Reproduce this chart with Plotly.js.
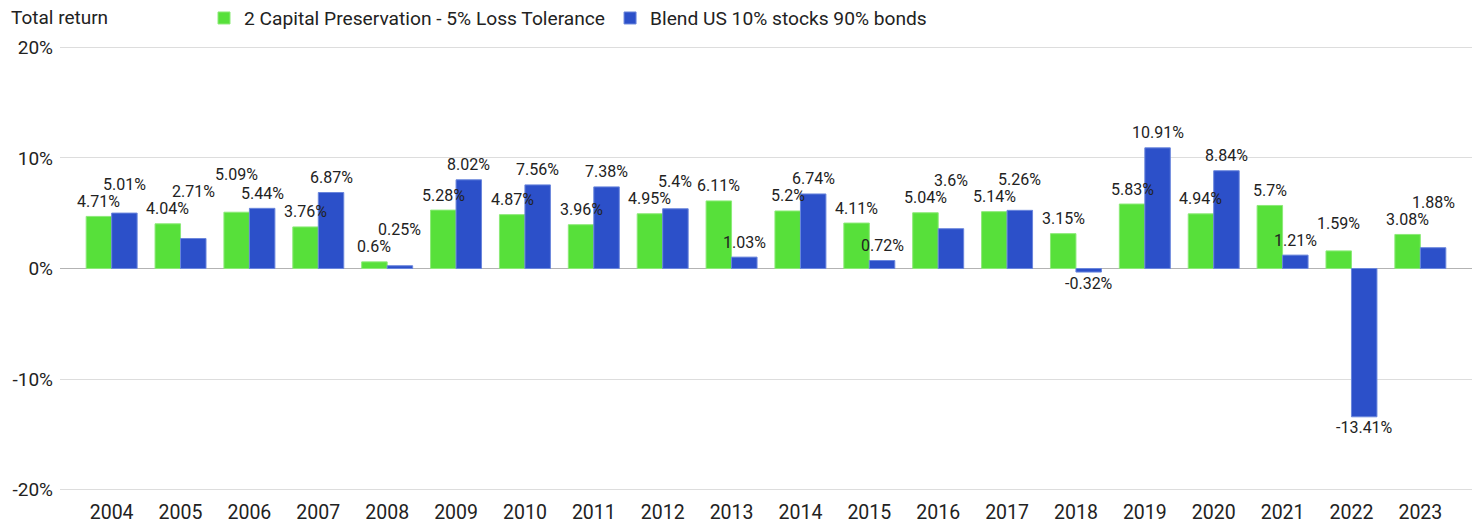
<!DOCTYPE html>
<html>
<head>
<meta charset="utf-8">
<script src="https://cdn.plot.ly/plotly-3.0.1.min.js"></script>
<style>
  html, body { margin: 0; padding: 0; background: #fff; }
  #chart { width: 1478px; height: 523px; }
</style>
</head>
<body>
<div id="chart"></div>
<script>
// ---- Data ----
const years = ['2004','2005','2006','2007','2008','2009','2010','2011','2012','2013',
               '2014','2015','2016','2017','2018','2019','2020','2021','2022','2023'];
const capitalPreservation = [4.71, 4.04, 5.09, 3.76, 0.6, 5.28, 4.87, 3.96, 4.95, 6.11,
                             5.2, 4.11, 5.04, 5.14, 3.15, 5.83, 4.94, 5.7, 1.59, 3.08];
const blendUS = [5.01, 2.71, 5.44, 6.87, 0.25, 8.02, 7.56, 7.38, 5.4, 1.03,
                 6.74, 0.72, 3.6, 5.26, -0.32, 10.91, 8.84, 1.21, -13.41, 1.88];
const seriesNames = ['2 Capital Preservation - 5% Loss Tolerance', 'Blend US 10% stocks 90% bonds'];
const yTickVals = [-20, -10, 0, 10, 20];
const yAxisLabel = 'Total return';

// ---- Layout constants ----
const W = 1478, H = 523;
const M = { l: 60, r: 6, t: 44, b: 30 };
const xRange = [-0.75, years.length - 0.25];
const yRange = [-20.3, 20.3];
const bargap = 0.26;
const FONT = 'Roboto, "Open Sans", sans-serif';
const LABEL_SIZE = 16;
const green = '#57e03a';
const blue = '#2c50c9';

const plotW = W - M.l - M.r, plotH = H - M.t - M.b;
const pxX = u => M.l + (u - xRange[0]) / (xRange[1] - xRange[0]) * plotW;
const pxY = v => M.t + (yRange[1] - v) / (yRange[1] - yRange[0]) * plotH;
const halfOff = (1 - bargap) / 4; // offset of each bar centre within group (category units)
const offPx = halfOff * plotW / (xRange[1] - xRange[0]);

// ---- Value labels with simple greedy collision avoidance ----
const canvas = document.createElement('canvas');
const ctx = canvas.getContext('2d');
ctx.font = LABEL_SIZE + 'px Roboto';
const labelH = 17;
const placed = [];
const annotations = [];
const seriesVals = [capitalPreservation, blendUS];
years.forEach((yr, i) => {
  seriesVals.forEach((vals, s) => {
    const v = vals[i];
    const text = String(v) + '%';
    const w = ctx.measureText(text).width + 3;
    const sign = s === 0 ? -1 : 1;
    const cx = pxX(i) + sign * offPx;
    const base = pxY(v);
    let cy = v >= 0 ? base - 15 : base + 11;
    let moved = true;
    while (moved) {
      moved = false;
      for (const p of placed) {
        if (Math.abs(cx - p.cx) < (w + p.w) / 2 && Math.abs(cy - p.cy) < labelH) {
          cy = v >= 0 ? p.cy - labelH : p.cy + labelH;
          moved = true;
        }
      }
    }
    placed.push({ cx, cy, w });
    annotations.push({
      x: i, y: v, xref: 'x', yref: 'y',
      xshift: sign * offPx, yshift: base - cy,
      text: text, showarrow: false,
      xanchor: 'center', yanchor: 'middle',
      font: { family: FONT, size: LABEL_SIZE, color: '#222222' }
    });
  });
});

annotations.push({
  text: yAxisLabel, showarrow: false,
  xref: 'paper', yref: 'paper',
  x: (9 - M.l) / plotW, y: (H - M.b - 18) / plotH,
  xanchor: 'left', yanchor: 'middle',
  font: { family: FONT, size: 19, color: '#222222' }
});

const traces = [
  {
    type: 'bar', name: seriesNames[0], x: years, y: capitalPreservation,
    marker: { color: green, line: { color: '#8cea78', width: 1 } },
    hoverinfo: 'x+y'
  },
  {
    type: 'bar', name: seriesNames[1], x: years, y: blendUS,
    marker: { color: blue, line: { color: '#6a86dc', width: 1 } },
    hoverinfo: 'x+y'
  }
];

const layout = {
  width: W, height: H,
  margin: M,
  paper_bgcolor: '#ffffff', plot_bgcolor: '#ffffff',
  font: { family: FONT, size: 19, color: '#222222' },
  barmode: 'group',
  bargap: bargap,
  bargroupgap: 0,
  showlegend: true,
  legend: {
    orientation: 'h',
    xref: 'container', yref: 'container',
    x: 204 / W, y: 1 - 18 / H,
    xanchor: 'left', yanchor: 'middle',
    font: { family: FONT, size: 19.2, color: '#222222' },
    bgcolor: 'rgba(0,0,0,0)',
    traceorder: 'normal'
  },
  xaxis: {
    type: 'category',
    range: xRange,
    showgrid: false, zeroline: false, showline: false,
    ticks: '',
    tickfont: { family: FONT, size: 19.5, color: '#222222' },
    ticklabelstandoff: 5,
    fixedrange: true
  },
  yaxis: {
    range: yRange,
    tickvals: yTickVals,
    ticktext: yTickVals.map(v => v + '%'),
    showgrid: true, gridcolor: '#dddddd', gridwidth: 1,
    zeroline: true, zerolinecolor: '#b3b3b3', zerolinewidth: 1.5,
    showline: false, ticks: '',
    tickfont: { family: FONT, size: 19, color: '#222222' },
    ticklabelstandoff: 6,
    fixedrange: true
  },
  annotations: annotations
};

Plotly.newPlot('chart', traces, layout, { displayModeBar: false, staticPlot: true });
</script>
</body>
</html>
